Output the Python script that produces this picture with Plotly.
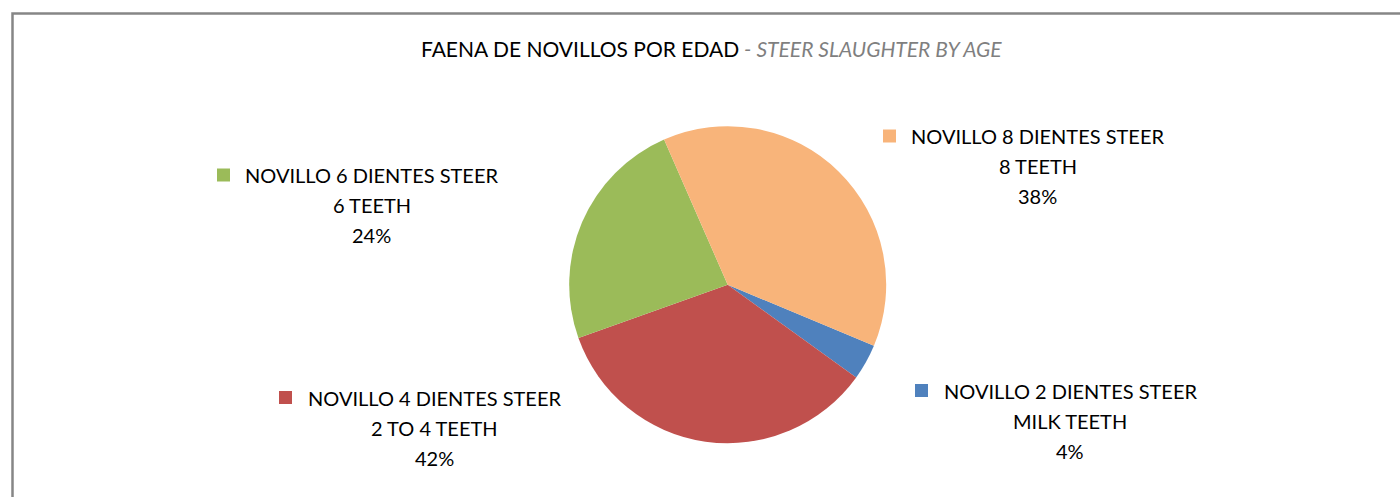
import plotly.graph_objects as go

# Data (order as drawn, clockwise starting at the blue slice)
categories = ["NOVILLO 2 DIENTES STEER", "NOVILLO 4 DIENTES STEER",
              "NOVILLO 6 DIENTES STEER", "NOVILLO 8 DIENTES STEER"]
sublabels = ["MILK TEETH", "2 TO 4 TEETH", "6 TEETH", "8 TEETH"]
slice_values = [3.65, 34.6, 23.9, 37.9]          # slice sizes as drawn
pct_labels = ["4%", "42%", "24%", "38%"]          # percentages printed on labels
colors = ["#4F81BD", "#C0504D", "#9BBB59", "#F8B47A"]

W, H = 1400, 497
FONT = "Lato"
FS = 20
TFS = 21

# label block layout (pixel positions: text center x, first line y, square x)
label_pos = [
    (1070, 390.5, 915),   # 2 dientes
    (434, 397.5, 279),    # 4 dientes
    (371.5, 175.0, 217),  # 6 dientes
    (1037.5, 136.0, 883), # 8 dientes
]
LINE = 30
SQ = 13

def px(x):
    return x / W

def py(y):
    return 1 - y / H

fig = go.Figure(go.Pie(
    labels=categories,
    values=slice_values,
    marker=dict(colors=colors, line=dict(width=0)),
    sort=False,
    direction="clockwise",
    rotation=112.7,
    textinfo="none",
    hoverinfo="label+percent",
    showlegend=False,
    domain=dict(x=[px(727.7 - 158.5), px(727.7 + 158.5)],
                y=[py(443.2), py(126.2)]),
))

annotations = []
shapes = []
for cat, sub, pct, col, (cx, y0, sqx) in zip(categories, sublabels, pct_labels, colors, label_pos):
    for i, line in enumerate([cat, sub, pct]):
        annotations.append(dict(
            x=px(cx), y=py(y0 + i * LINE), xref="paper", yref="paper",
            text=line, showarrow=False, xanchor="center", yanchor="middle",
            font=dict(family=FONT, size=FS, color="#000000"),
        ))
    shapes.append(dict(
        type="rect", xref="paper", yref="paper",
        x0=px(sqx), x1=px(sqx + SQ), y0=py(y0 - SQ / 2), y1=py(y0 + SQ / 2),
        fillcolor=col, line=dict(width=0),
    ))

# chart area border (left and top edges visible)
shapes.append(dict(
    type="rect", xref="paper", yref="paper",
    x0=px(12.5), x1=px(1420), y0=py(520), y1=py(13.5),
    line=dict(color="#868686", width=2.5), fillcolor="rgba(0,0,0,0)",
))

annotations.append(dict(
    x=px(711.5), y=py(49), xref="paper", yref="paper", showarrow=False,
    xanchor="center", yanchor="middle",
    text="FAENA DE NOVILLOS POR EDAD<span style='color:#7F7F7F'><i> - STEER SLAUGHTER BY AGE</i></span>",
    font=dict(family=FONT, size=TFS, color="#000000"),
))

fig.update_layout(
    width=W, height=H,
    margin=dict(l=0, r=0, t=0, b=0),
    paper_bgcolor="white", plot_bgcolor="white",
    annotations=annotations, shapes=shapes,
)

fig.write_html(
    "out.html",
    config={"displayModeBar": False},
    post_script="document.body.style.margin='0';document.body.style.overflow='hidden';",
)
